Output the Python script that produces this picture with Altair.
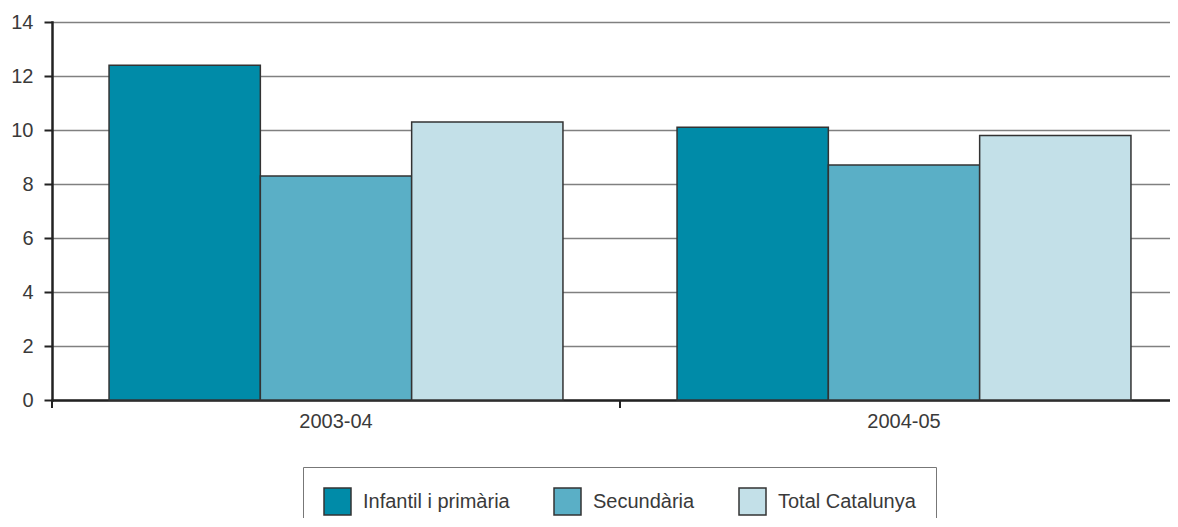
import altair as alt
import pandas as pd

periodes = ["2003-04", "2004-05"]
series = ["Infantil i primària", "Secundària", "Total Catalunya"]
infantil = [12.4, 10.1]
secundaria = [8.3, 8.7]
total = [10.3, 9.8]
colors = ["#008BA8", "#5AAFC6", "#C3E0E8"]
y_ticks = [0, 2, 4, 6, 8, 10, 12, 14]

rows = []
for i, p in enumerate(periodes):
    for s, vals in zip(series, [infantil, secundaria, total]):
        rows.append({"periode": p, "serie": s, "valor": vals[i]})
df = pd.DataFrame(rows)
cats = pd.DataFrame({"periode": periodes})

W, H = 1118, 378
FONT = "Liberation Sans"
TXT = "#3a3a3a"

x_scale = alt.Scale(range=[0, 1136], paddingInner=0, paddingOuter=0)

bars = alt.Chart(df).mark_bar(stroke="#333333", strokeWidth=1.5).encode(
    x=alt.X("periode:N", scale=x_scale, sort=periodes, title=None,
            axis=alt.Axis(labelAngle=0, tickSize=0, labelPadding=11, domainColor="#222222",
                          domainWidth=2.5, labelFontSize=20, labelColor=TXT, labelFont=FONT)),
    xOffset=alt.XOffset("serie:N", sort=series,
                        scale=alt.Scale(paddingInner=0, paddingOuter=0.377)),
    y=alt.Y("valor:Q", scale=alt.Scale(domain=[0, 14], nice=False), title=None,
            axis=alt.Axis(values=y_ticks, grid=True, gridColor="#808080", gridWidth=1.5,
                          domainColor="#222222", domainWidth=2.5, tickColor="#222222",
                          tickWidth=2, tickSize=8, labelPadding=11, labelFontSize=20,
                          labelColor=TXT, labelFont=FONT)),
    color=alt.Color("serie:N", sort=series, scale=alt.Scale(domain=series, range=colors),
                    legend=alt.Legend(title=None, orient="none", legendX=251, legendY=445,
                                      direction="horizontal", symbolType="square",
                                      symbolSize=729, symbolStrokeColor="#333333",
                                      symbolStrokeWidth=1.5, labelFontSize=20,
                                      labelFont=FONT, labelColor=TXT,
                                      labelOffset=11, columnPadding=41, padding=20,
                                      strokeColor="#777777")),
)

ticks = alt.Chart(cats).mark_rule(color="#222222", strokeWidth=2).encode(
    x=alt.X("periode:N", sort=periodes, bandPosition=0),
    y=alt.value(H),
    y2=alt.value(H + 8),
)

chart = alt.layer(bars, ticks).properties(
    width=W, height=H,
    autosize=alt.AutoSizeParams(type="none"),
    padding={"left": 44, "top": 14, "right": 0, "bottom": 118},
).configure_view(stroke=None).configure_axis(domainCap="square")

chart.save("out.html", embed_options={"renderer": "svg", "actions": False})
